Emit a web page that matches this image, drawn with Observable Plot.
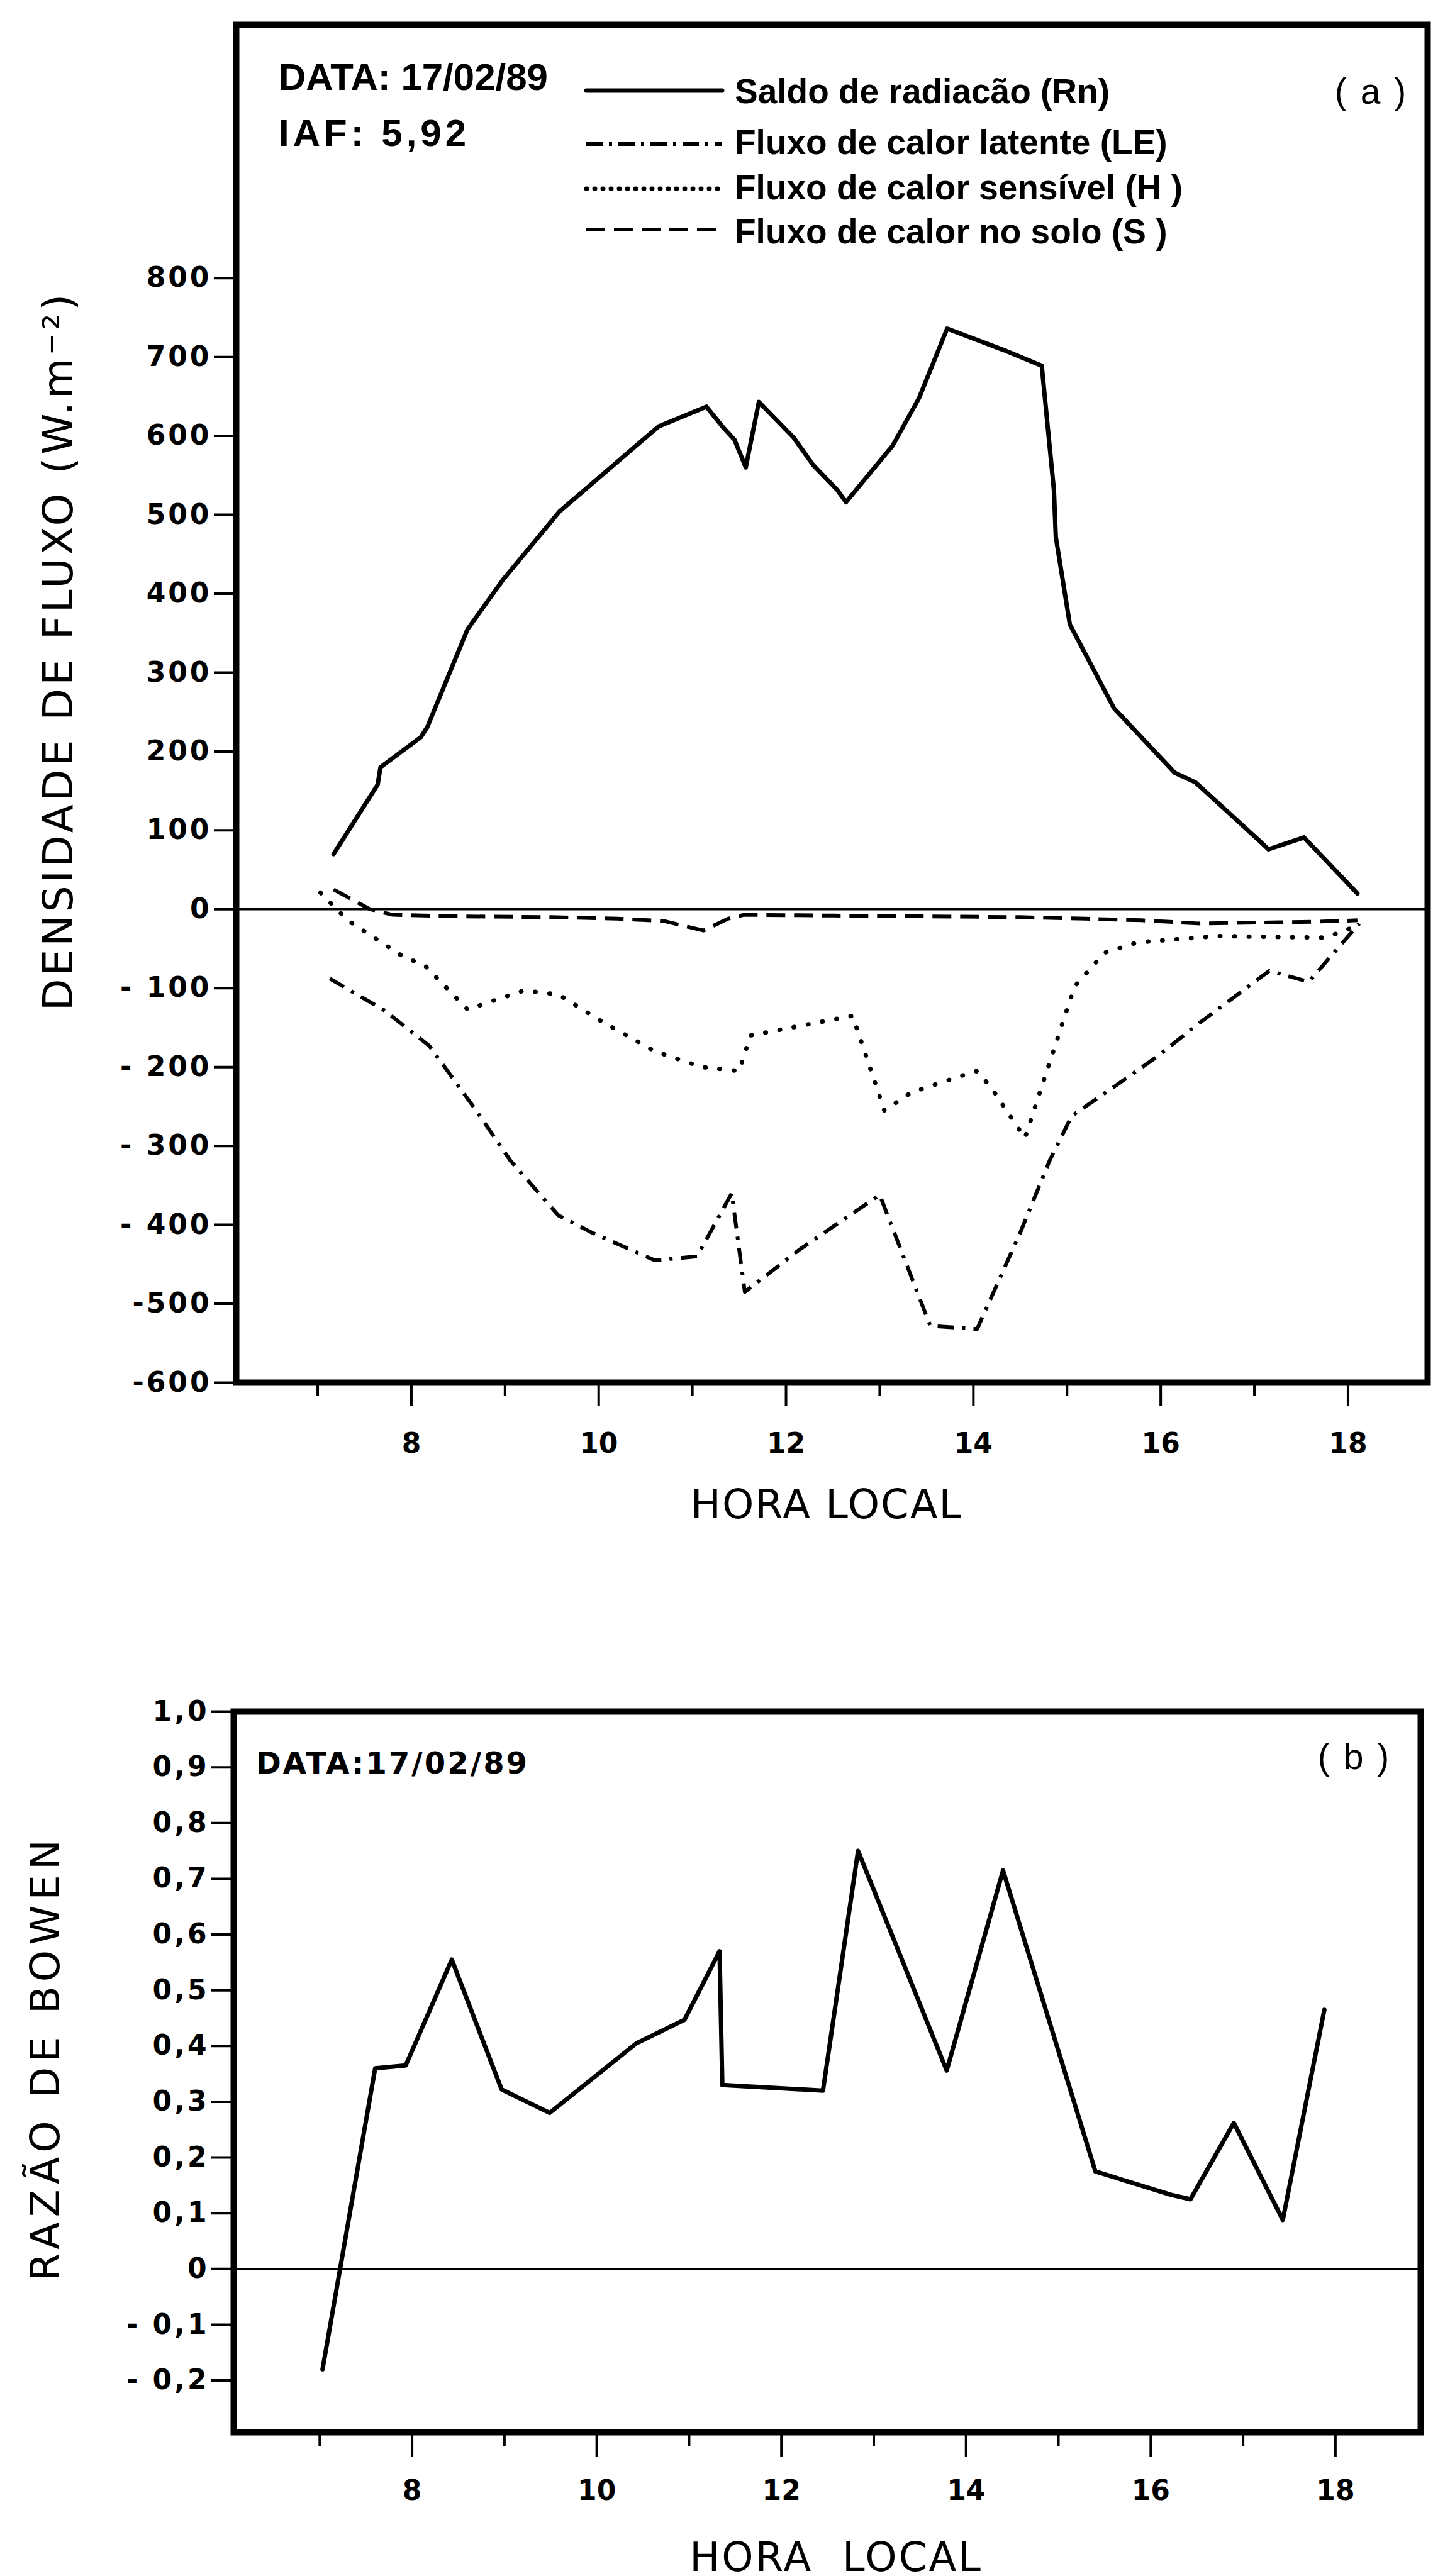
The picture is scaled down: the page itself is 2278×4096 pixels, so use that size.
<!DOCTYPE html>
<html><head><meta charset="utf-8">
<script src="https://cdn.jsdelivr.net/npm/d3@7"></script>
<script src="https://cdn.jsdelivr.net/npm/@observablehq/plot@0.6"></script>
<style>
html,body{margin:0;padding:0;background:#fff;}
#chart svg{display:block;}
</style></head><body><div id="chart"></div>
<script>
// ---------- data ----------
const rnHours  = [7.17,7.64,7.67,8.10,8.17,8.60,8.98,9.58,10.64,11.15,11.32,11.45,11.57,11.71,12.08,12.29,12.55,12.64,13.14,13.42,13.72,14.32,14.73,14.86,14.88,15.03,15.50,16.15,16.37,17.07,17.15,17.53,18.10];
const rnValues = [70,158,180,218,231,355,418,504,612,637,612,595,560,643,598,563,531,516,588,648,736,709,689,531,472,361,255,173,161,85,76,91,20];

const leHours  = [7.13,7.71,8.19,8.68,9.06,9.57,9.93,10.60,11.05,11.42,11.56,12.16,13.00,13.54,14.04,14.50,14.82,15.05,15.66,15.97,16.37,17.16,17.58,18.12];
const leValues = [-88,-128,-173,-253,-319,-388,-410,-445,-440,-360,-485,-430,-362,-528,-532,-410,-317,-262,-212,-186,-148,-78,-92,-18];

const hHours   = [7.03,7.32,7.90,8.15,8.60,9.20,9.57,10.03,10.60,11.10,11.50,11.62,12.71,13.05,13.34,14.03,14.18,14.55,15.08,15.40,15.75,16.60,17.76,18.12];
const hValues  = [21,-14,-59,-72,-127,-103,-108,-142,-180,-200,-205,-160,-135,-255,-232,-205,-224,-290,-98,-55,-42,-34,-36,-20];

const sHours   = [7.17,7.56,7.80,8.50,9.50,10.20,10.70,11.12,11.38,11.55,12.50,13.50,14.50,15.20,15.80,16.40,17.00,17.60,18.10];
const sValues  = [25,0,-7,-9,-10,-12,-15,-27,-12,-7,-8,-9,-10,-12,-14,-18,-17,-16,-14];

const bowenHours  = [7.03,7.60,7.93,8.43,8.97,9.49,10.43,10.95,11.33,11.36,12.45,12.83,13.79,14.40,15.40,16.22,16.43,16.90,17.43,17.88];
const bowenValues = [-0.18,0.36,0.365,0.555,0.322,0.28,0.405,0.447,0.57,0.33,0.32,0.75,0.356,0.715,0.175,0.133,0.125,0.262,0.088,0.465];

const majorHours = [8,10,12,14,16,18];
const minorHours = [7,9,11,13,15,17];
const yTicksA  = [800,700,600,500,400,300,200,100,0,-100,-200,-300,-400,-500,-600];
const yLabelsA = ["800","700","600","500","400","300","200","100","0","- 100","- 200","- 300","- 400","-500","-600"];
const yTicksB  = [1.0,0.9,0.8,0.7,0.6,0.5,0.4,0.3,0.2,0.1,0,-0.1,-0.2];
const yLabelsB = ["1,0","0,9","0,8","0,7","0,6","0,5","0,4","0,3","0,2","0,1","0","- 0,1","- 0,2"];

const seriesNames = ["Saldo de radiacão (Rn)","Fluxo de calor latente (LE)","Fluxo de calor sensível (H )","Fluxo de calor no solo (S )"];
const dateText = "DATA: 17/02/89";
const dateTextB = "DATA:17/02/89";
const iafText = "IAF: 5,92";
const xTitle = "HORA LOCAL";
const xTitleB = "HORA  LOCAL";
const yTitleA = "DENSIDADE DE FLUXO (W.m⁻²)";
const yTitleB = "RAZÃO DE BOWEN";

// ---------- styles ----------
const lineStyles = [
  {strokeWidth: 7, dash: null, cap: "round"},
  {strokeWidth: 6, dash: "26,13,5,13", cap: "butt"},
  {strokeWidth: 7, dash: "1,22", cap: "round"},
  {strokeWidth: 6, dash: "30,14", cap: "butt"}
];
const legendDash = [null, "26,10,5,10", "1,12", "30,14"];
const W = 2278;
const toRows = (hs, vs) => hs.map((t, i) => ({t, v: vs[i]}));
const rn = toRows(rnHours, rnValues), le = toRows(leHours, leValues),
      hh = toRows(hHours, hValues), ss = toRows(sHours, sValues),
      bw = toRows(bowenHours, bowenValues);
const seriesA = [rn, le, hh, ss];

const baseStyle = {fontFamily: "'DejaVu Sans', sans-serif", fontSize: "44px", fontWeight: "bold", background: "white", color: "black", overflow: "visible"};

// ---------- panel (a) ----------
const plotA = Plot.plot({
  width: W, height: 2450,
  marginTop: 39, marginBottom: 252, marginLeft: 375, marginRight: 9,
  style: baseStyle,
  x: {domain: [6.13, 18.85]},
  y: {domain: [-600, 1121]},
  marks: [
    Plot.ruleY([0], {strokeWidth: 3.5}),
    ...seriesA.map((d, i) => Plot.line(d, {x: "t", y: "v", stroke: "black",
        strokeWidth: lineStyles[i].strokeWidth, strokeDasharray: lineStyles[i].dash,
        strokeLinecap: lineStyles[i].cap, strokeLinejoin: "round"})),
    Plot.axisY({ticks: yTicksA, tickFormat: d => yLabelsA[yTicksA.indexOf(d)], tickSize: 35, tickPadding: 4, strokeWidth: 4, label: null}),
    Plot.axisX({ticks: majorHours, tickFormat: d => String(d), tickSize: 38, tickPadding: 42, strokeWidth: 4, label: null}),
    Plot.axisX({ticks: minorHours, tickFormat: () => "", tickSize: 22, strokeWidth: 4, label: null}),
    Plot.frame({strokeWidth: 10})
  ]
});

// ---------- panel (b) ----------
const plotB = Plot.plot({
  width: W, height: 1646,
  marginTop: 271, marginBottom: 229, marginLeft: 371, marginRight: 20,
  style: baseStyle,
  x: {domain: [6.068, 18.924]},
  y: {domain: [-0.293, 1.0]},
  marks: [
    Plot.ruleY([0], {strokeWidth: 3.5}),
    Plot.line(bw, {x: "t", y: "v", stroke: "black", strokeWidth: 7, strokeLinejoin: "round", strokeLinecap: "round"}),
    Plot.axisY({ticks: yTicksB, tickFormat: d => yLabelsB[yTicksB.indexOf(d)], tickSize: 35, tickPadding: 4, strokeWidth: 4, label: null}),
    Plot.axisX({ticks: majorHours, tickFormat: d => String(d), tickSize: 40, tickPadding: 36, strokeWidth: 4, label: null}),
    Plot.axisX({ticks: minorHours, tickFormat: () => "", tickSize: 22, strokeWidth: 4, label: null}),
    Plot.frame({strokeWidth: 10})
  ]
});

const chart = document.getElementById("chart");
chart.appendChild(plotA);
chart.appendChild(plotB);

// letter spacing on tick labels
for (const p of [plotA, plotB]) {
  d3.select(p).selectAll('g[aria-label="y-axis tick label"] text').attr("letter-spacing", 4);
}

function addText(svg, str, x, y, o = {}) {
  const t = d3.select(svg).append("text")
    .attr("font-family", o.family || "'Liberation Sans', Arial, sans-serif")
    .attr("font-size", o.size || 55)
    .attr("font-weight", o.weight || "bold")
    .attr("letter-spacing", o.ls || 0)
    .attr("text-anchor", o.anchor || "start")
    .attr("fill", "black");
  if (o.rotate) t.attr("transform", `translate(${x},${y}) rotate(${o.rotate})`);
  else t.attr("x", x).attr("y", y);
  t.text(str);
  return t;
}

// annotations panel (a)
addText(plotA, dateText, 443, 143, {size: 60});
addText(plotA, iafText, 443, 232, {size: 60, ls: 6});
addText(plotA, "( a )", 2180, 165, {size: 57, anchor: "middle", ls: 3, weight: "normal"});
const legendRowsText = [164, 245, 317, 387];
const legendRowsLine = [144, 229, 300, 365];
seriesNames.forEach((name, i) => {
  d3.select(plotA).append("line")
    .attr("x1", 932).attr("x2", 1148)
    .attr("y1", legendRowsLine[i]).attr("y2", legendRowsLine[i])
    .attr("stroke", "black").attr("stroke-width", lineStyles[i].strokeWidth)
    .attr("stroke-dasharray", legendDash[i])
    .attr("stroke-linecap", lineStyles[i].cap);
  addText(plotA, name, 1168, legendRowsText[i], {size: 55});
});
addText(plotA, xTitle, 1314, 2414, {family: "'DejaVu Sans', sans-serif", size: 64, weight: "normal", anchor: "middle", ls: 2});
addText(plotA, yTitleA, 115, 1035, {family: "'DejaVu Sans', sans-serif", size: 66, weight: "normal", anchor: "middle", ls: 5, rotate: -90});

// annotations panel (b)
addText(plotB, dateTextB, 407, 370, {family: "'DejaVu Sans', sans-serif", size: 48, ls: 3});
addText(plotB, "( b )", 2153, 363, {size: 57, anchor: "middle", ls: 3, weight: "normal"});
addText(plotB, xTitleB, 1329, 1638, {family: "'DejaVu Sans', sans-serif", size: 64, weight: "normal", anchor: "middle", ls: 3});
addText(plotB, yTitleB, 94, 822, {family: "'DejaVu Sans', sans-serif", size: 64, weight: "normal", anchor: "middle", ls: 8, rotate: -90});
</script></body></html>
